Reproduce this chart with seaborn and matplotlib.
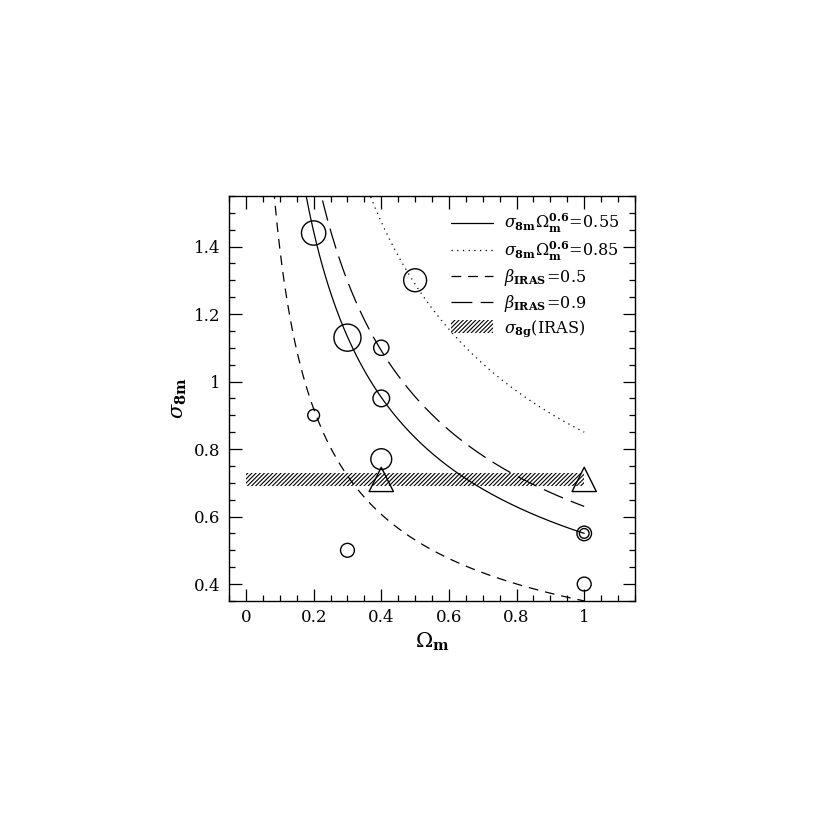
import numpy as np
import pandas as pd
import matplotlib
matplotlib.use("Agg")
import matplotlib.pyplot as plt
import seaborn as sns
from matplotlib.lines import Line2D
from matplotlib.patches import Patch

# curve constants: sigma_8m * Omega_m^0.6 = const
expo = 0.6
amp_sigma_055 = 0.55
amp_sigma_085 = 0.85
amp_beta_05 = 0.35   # beta_IRAS=0.5 times sigma_8g
amp_beta_09 = 0.63   # beta_IRAS=0.9 times sigma_8g

# IRAS band
band_lo = 0.69
band_hi = 0.73
band_x = [0.0, 1.0]

# circles (Omega_m, sigma_8m, marker diameter in pt)
circ_om = [0.2, 0.3, 0.5, 0.4, 0.4, 0.4, 0.2, 0.3, 1.0, 1.0, 1.0]
circ_s8 = [1.44, 1.13, 1.30, 1.10, 0.95, 0.77, 0.90, 0.50, 0.55, 0.55, 0.40]
circ_d = [17.5, 19.5, 16.5, 11, 12, 15, 8.5, 10, 10.5, 7, 10]

# triangles
tri_om = [0.4, 1.0]
tri_s8 = [0.71, 0.71]

sns.set_style("ticks")
plt.rcParams['font.family'] = ['DejaVu Serif']
plt.rcParams['mathtext.fontset'] = 'dejavuserif'
plt.rcParams['lines.scale_dashes'] = False
plt.rcParams['hatch.linewidth'] = 0.8
plt.rcParams['text.color'] = 'black'
plt.rcParams['axes.labelcolor'] = 'black'
plt.rcParams['xtick.color'] = 'black'
plt.rcParams['ytick.color'] = 'black'
plt.rcParams['axes.edgecolor'] = 'black'

fig = plt.figure(figsize=(8.3, 8.3), dpi=100)
ax = fig.add_axes([0.276, 0.276, 0.489, 0.488])

om = np.linspace(0.05, 1.0, 400)
curves = pd.DataFrame({
    "om": np.tile(om, 4),
    "s8": np.concatenate([amp_sigma_055 * om ** -expo, amp_sigma_085 * om ** -expo,
                          amp_beta_05 * om ** -expo, amp_beta_09 * om ** -expo]),
    "which": np.repeat(["s055", "s085", "b05", "b09"], len(om)),
})
dotted = (0, (0.9, 3.2))
short_dash = (0, (7, 5))
long_dash = (0, (15, 6))
styles = {"s055": "-", "s085": dotted, "b05": short_dash, "b09": long_dash}
for k, ls in styles.items():
    d = curves[curves.which == k]
    sns.lineplot(data=d, x="om", y="s8", ax=ax, color="black", lw=0.9, linestyle=ls,
                 sort=False, estimator=None)

ax.fill_between(band_x, band_lo, band_hi, facecolor="none", edgecolor="black",
                hatch="////////", linewidth=0)

pts = pd.DataFrame({"om": circ_om, "s8": circ_s8})
sns.scatterplot(data=pts, x="om", y="s8", ax=ax, s=np.array(circ_d) ** 2, marker="o",
                color="black", facecolor="none", edgecolor="black", linewidth=1.0, zorder=5)
tri = pd.DataFrame({"om": tri_om, "s8": tri_s8})
sns.scatterplot(data=tri, x="om", y="s8", ax=ax, s=17.5 ** 2, marker="^",
                color="black", facecolor="none", edgecolor="black", linewidth=1.0, zorder=5)

ax.set_xlim(-0.05, 1.15)
ax.set_ylim(0.35, 1.55)
ax.set_xticks([0, 0.2, 0.4, 0.6, 0.8, 1])
ax.set_xticklabels(["0", "0.2", "0.4", "0.6", "0.8", "1"])
ax.set_yticks([0.4, 0.6, 0.8, 1.0, 1.2, 1.4])
ax.set_yticklabels(["0.4", "0.6", "0.8", "1", "1.2", "1.4"])
ax.set_xticks(np.arange(-0.05, 1.151, 0.05), minor=True)
ax.set_yticks(np.arange(0.35, 1.551, 0.05), minor=True)
ax.tick_params(which="both", direction="in", top=True, right=True, width=0.9,
               labelsize=12, pad=6)
ax.tick_params(which="major", length=9)
ax.tick_params(which="minor", length=4.5)
for sp in ax.spines.values():
    sp.set_linewidth(1.0)

ax.set_xlabel(r"$\Omega_{\mathbf{m}}$", fontsize=15, labelpad=3)
ax.set_ylabel(r"$\sigma_{\mathbf{8m}}$", fontsize=15, labelpad=4)

handles = [
    Line2D([], [], color="black", lw=0.9, linestyle="-"),
    Line2D([], [], color="black", lw=0.9, linestyle=dotted),
    Line2D([], [], color="black", lw=0.9, linestyle=short_dash),
    Line2D([], [], color="black", lw=0.9, linestyle=long_dash),
    Patch(facecolor="none", edgecolor="black", hatch="////////", linewidth=0),
]
labels = [
    r"$\sigma_{\mathbf{8m}}\Omega_{\mathbf{m}}^{\mathbf{0.6}}\!=\!0.55$",
    r"$\sigma_{\mathbf{8m}}\Omega_{\mathbf{m}}^{\mathbf{0.6}}\!=\!0.85$",
    r"$\beta_{\mathbf{IRAS}}\!=\!0.5$",
    r"$\beta_{\mathbf{IRAS}}\!=\!0.9$",
    r"$\sigma_{\mathbf{8g}}$(IRAS)",
]
ax.legend(handles, labels, loc="upper right", frameon=False, fontsize=11.5,
          handlelength=2.6, handleheight=0.85, handletextpad=0.7, labelspacing=0.28,
          borderaxespad=0.6)

fig.savefig("out.png", dpi=100)
